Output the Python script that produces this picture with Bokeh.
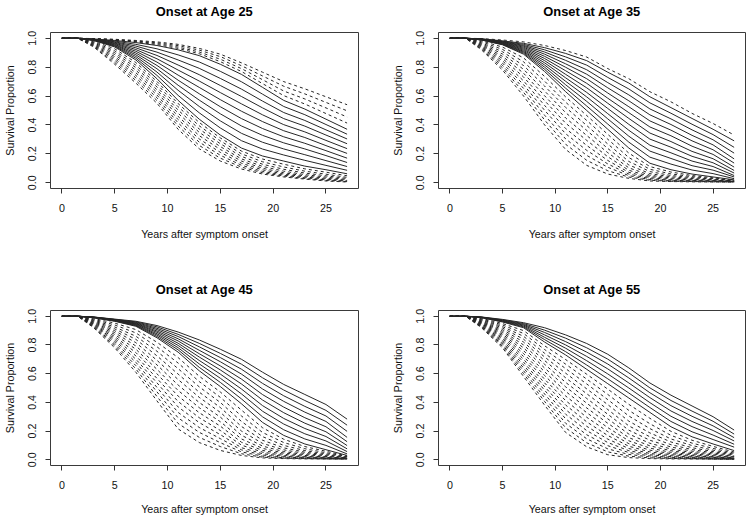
from bokeh.plotting import figure
from bokeh.models import Range1d, FixedTicker, NumeralTickFormatter, Title
from bokeh.layouts import column, row
from bokeh.embed import file_html
from bokeh.resources import INLINE

# ---------------- data (survival, in percent) ----------------
years = [0, 1.5, 3, 5, 7, 9, 11, 13, 15, 17, 19, 21, 23, 25, 27]

all_alive = [100.0, 100.0, 100.0, 100.0, 100.0, 100.0, 100.0, 100.0, 100.0, 100.0, 100.0, 100.0,
             100.0, 100.0, 100.0, 100.0, 100.0, 100.0, 100.0, 100.0, 100.0, 100.0, 100.0, 100.0]

# each row = one year of `years` (from 3 on), 24 curves from top to bottom
age25_rows = [
    [99.8, 99.7, 99.7, 99.6, 99.5, 99.4, 99.3, 99.2, 99.1, 99.0, 98.9, 98.8, 98.7, 98.6, 98.5, 98.0, 97.5, 97.0, 96.5, 96.0, 95.5, 95.0, 94.5, 94.0],
    [99.3, 99.1, 98.9, 98.7, 98.5, 98.1, 97.6, 97.2, 96.7, 96.3, 95.8, 95.4, 94.9, 94.5, 94.0, 92.7, 91.3, 90.0, 88.7, 87.3, 86.0, 84.7, 83.3, 82.0],
    [98.5, 98.1, 97.8, 97.4, 97.0, 95.8, 94.6, 93.4, 92.2, 91.0, 89.8, 88.6, 87.4, 86.2, 85.0, 83.2, 81.4, 79.7, 77.9, 76.1, 74.3, 72.6, 70.8, 69.0],
    [97.5, 96.9, 96.3, 95.6, 95.0, 92.7, 90.4, 88.1, 85.8, 83.5, 81.2, 78.9, 76.6, 74.3, 72.0, 70.1, 68.2, 66.3, 64.4, 62.6, 60.7, 58.8, 56.9, 55.0],
    [95.8, 94.9, 93.9, 93.0, 92.0, 88.5, 85.0, 81.5, 78.0, 74.5, 71.0, 67.5, 64.0, 60.5, 57.0, 54.8, 52.6, 50.3, 48.1, 45.9, 43.7, 41.4, 39.2, 37.0],
    [93.0, 91.8, 90.5, 89.3, 88.0, 83.6, 79.2, 74.8, 70.4, 66.0, 61.6, 57.2, 52.8, 48.4, 44.0, 41.7, 39.4, 37.2, 34.9, 32.6, 30.3, 28.1, 25.8, 23.5],
    [89.0, 87.3, 85.5, 83.8, 82.0, 77.1, 72.2, 67.3, 62.4, 57.5, 52.6, 47.7, 42.8, 37.9, 33.0, 31.0, 29.0, 27.0, 25.0, 23.0, 21.0, 19.0, 17.0, 15.0],
    [83.0, 81.0, 79.0, 77.0, 75.0, 69.9, 64.8, 59.7, 54.6, 49.5, 44.4, 39.3, 34.2, 29.1, 24.0, 21.9, 20.0, 18.2, 16.5, 15.0, 13.5, 12.1, 10.8, 9.5],
    [76.5, 73.9, 71.3, 68.6, 66.0, 61.3, 56.5, 51.8, 47.0, 42.3, 37.5, 32.8, 28.0, 23.3, 18.5, 16.4, 14.5, 12.8, 11.3, 10.0, 8.9, 7.8, 6.9, 6.0],
    [70.0, 66.8, 63.5, 60.3, 57.0, 52.8, 48.6, 44.4, 40.2, 36.0, 31.8, 27.6, 23.4, 19.2, 15.0, 12.8, 10.9, 9.3, 8.0, 6.9, 6.0, 5.2, 4.6, 4.0],
    [65.0, 61.5, 58.0, 54.5, 51.0, 47.1, 43.1, 39.2, 35.2, 31.3, 27.3, 23.4, 19.4, 15.5, 11.5, 9.6, 8.0, 6.7, 5.6, 4.7, 4.0, 3.4, 2.9, 2.5],
    [59.5, 55.6, 51.8, 47.9, 44.0, 40.3, 36.6, 33.0, 29.3, 25.7, 22.2, 18.8, 15.3, 12.0, 9.0, 7.3, 5.9, 4.8, 3.9, 3.1, 2.5, 2.0, 1.6, 1.2],
    [54.0, 49.8, 45.5, 41.3, 37.0, 33.6, 30.3, 27.0, 23.6, 20.3, 17.0, 14.0, 11.2, 8.6, 6.2, 4.8, 3.7, 2.9, 2.2, 1.7, 1.3, 1.0, 0.7, 0.5],
]

age35_rows = [
    [99.8, 99.6, 99.5, 99.5, 99.4, 99.3, 99.2, 99.2, 99.1, 99.0, 98.9, 98.9, 98.8, 98.2, 97.6, 96.9, 96.3, 95.7, 95.1, 94.5, 93.9, 93.2, 92.6, 92.0],
    [98.8, 98.2, 98.0, 97.7, 97.5, 97.2, 97.0, 96.7, 96.5, 96.2, 96.0, 95.7, 95.5, 93.9, 92.3, 90.7, 89.1, 87.5, 86.0, 84.4, 82.8, 81.2, 79.6, 78.0],
    [97.5, 96.5, 95.8, 95.1, 94.5, 93.8, 93.1, 92.4, 91.7, 91.0, 90.4, 89.7, 89.0, 86.4, 83.7, 81.1, 78.5, 75.8, 73.2, 70.5, 67.9, 65.3, 62.6, 60.0],
    [95.0, 93.5, 92.0, 90.5, 89.0, 87.5, 86.0, 84.5, 83.0, 81.5, 80.0, 78.5, 77.0, 73.6, 70.3, 66.9, 63.5, 60.2, 56.8, 53.5, 50.1, 46.7, 43.4, 40.0],
    [91.5, 89.5, 87.1, 84.7, 82.3, 79.9, 77.5, 75.0, 72.6, 70.2, 67.8, 65.4, 63.0, 59.4, 55.7, 52.1, 48.5, 44.8, 41.2, 37.5, 33.9, 30.3, 26.6, 23.0],
    [87.0, 84.5, 81.4, 78.2, 75.1, 72.0, 68.8, 65.7, 62.5, 59.4, 56.3, 53.1, 50.0, 46.5, 43.1, 39.6, 36.2, 32.7, 29.3, 25.8, 22.4, 18.9, 15.5, 12.0],
    [79.0, 76.5, 72.9, 69.3, 65.7, 62.1, 58.5, 55.0, 51.4, 47.8, 44.2, 40.6, 37.0, 33.5, 30.1, 26.8, 23.7, 20.8, 18.0, 15.4, 13.0, 10.7, 8.3, 6.0],
    [72.0, 69.0, 64.9, 60.8, 56.7, 52.6, 48.5, 44.5, 40.4, 36.3, 32.2, 28.1, 24.0, 20.5, 17.4, 14.7, 12.3, 10.3, 8.6, 7.2, 6.0, 4.9, 3.9, 3.0],
    [63.0, 59.5, 55.3, 51.1, 47.0, 42.8, 38.6, 34.4, 30.2, 26.0, 21.9, 17.7, 13.5, 11.2, 9.3, 7.7, 6.3, 5.2, 4.3, 3.5, 2.8, 2.2, 1.7, 1.2],
    [56.0, 52.0, 48.1, 44.2, 40.3, 36.4, 32.5, 28.5, 24.6, 20.7, 16.8, 12.9, 9.0, 7.4, 6.1, 5.0, 4.1, 3.3, 2.7, 2.1, 1.7, 1.3, 1.0, 0.8],
    [48.0, 44.5, 40.5, 36.6, 32.8, 29.0, 25.3, 21.7, 18.3, 15.0, 11.8, 8.8, 6.0, 5.0, 4.2, 3.5, 2.9, 2.4, 2.0, 1.6, 1.3, 1.0, 0.8, 0.6],
    [41.0, 37.0, 33.3, 29.7, 26.2, 22.8, 19.6, 16.6, 13.8, 11.2, 8.7, 6.3, 4.0, 3.4, 2.9, 2.5, 2.1, 1.8, 1.5, 1.2, 1.0, 0.8, 0.6, 0.5],
    [33.0, 29.0, 24.5, 20.5, 16.5, 13.6, 10.8, 8.5, 6.7, 5.0, 4.0, 2.8, 2.0, 1.7, 1.5, 1.3, 1.1, 1.0, 0.9, 0.8, 0.7, 0.6, 0.5, 0.4],
]

age45_rows = [
    [99.5, 99.4, 99.4, 99.3, 99.3, 99.2, 99.2, 99.1, 99.1, 99.0, 98.5, 98.0, 97.5, 97.0, 96.5, 96.0, 95.5, 95.0, 94.5, 94.0, 93.5, 93.0, 92.5, 92.0],
    [98.0, 97.8, 97.7, 97.5, 97.3, 97.2, 97.0, 96.8, 96.7, 96.5, 95.2, 93.9, 92.5, 91.2, 89.9, 88.6, 87.3, 85.9, 84.6, 83.3, 82.0, 80.6, 79.3, 78.0],
    [96.5, 96.1, 95.7, 95.3, 94.9, 94.6, 94.2, 93.8, 93.4, 93.0, 90.7, 88.4, 86.1, 83.9, 81.6, 79.3, 77.0, 74.7, 72.4, 70.1, 67.9, 65.6, 63.3, 61.0],
    [93.5, 92.6, 91.6, 90.7, 89.7, 88.8, 87.8, 86.9, 85.9, 85.0, 81.9, 78.7, 75.6, 72.4, 69.3, 66.1, 63.0, 59.9, 56.7, 53.6, 50.4, 47.3, 44.1, 41.0],
    [89.0, 87.4, 85.9, 84.3, 82.8, 81.2, 79.7, 78.1, 76.6, 75.0, 71.2, 67.4, 63.5, 59.7, 55.9, 52.1, 48.3, 44.4, 40.6, 36.8, 33.0, 29.2, 25.3, 21.5],
    [83.5, 81.1, 78.7, 76.3, 73.9, 71.6, 69.2, 66.8, 64.4, 62.0, 58.2, 54.5, 50.8, 47.1, 43.5, 39.9, 36.3, 32.8, 29.3, 25.9, 22.5, 19.1, 15.6, 12.0],
    [77.0, 74.1, 71.2, 68.3, 65.4, 62.6, 59.7, 56.8, 53.9, 51.0, 47.2, 43.5, 39.9, 36.4, 33.0, 29.7, 26.5, 23.4, 20.4, 17.5, 14.7, 11.9, 9.2, 6.5],
    [70.0, 66.6, 63.1, 59.7, 56.2, 52.8, 49.3, 45.9, 42.4, 39.0, 34.6, 30.5, 26.7, 23.2, 20.0, 17.1, 14.5, 12.2, 10.2, 8.4, 6.9, 5.5, 4.2, 3.0],
    [61.0, 57.1, 53.2, 49.3, 45.4, 41.6, 37.7, 33.8, 29.9, 26.0, 22.3, 19.0, 16.1, 13.6, 11.4, 9.5, 7.9, 6.5, 5.3, 4.2, 3.3, 2.5, 1.8, 1.3],
    [52.5, 48.6, 44.6, 40.7, 36.7, 32.8, 28.8, 24.9, 20.9, 17.0, 14.3, 12.0, 10.0, 8.3, 6.9, 5.7, 4.7, 3.8, 3.0, 2.4, 1.9, 1.4, 1.1, 0.8],
    [45.5, 41.3, 37.2, 33.2, 29.3, 25.5, 21.8, 18.1, 14.5, 11.0, 9.2, 7.7, 6.4, 5.3, 4.4, 3.6, 3.0, 2.4, 2.0, 1.6, 1.3, 1.0, 0.8, 0.6],
    [38.5, 34.4, 30.5, 26.7, 23.0, 19.5, 16.2, 13.1, 10.0, 7.0, 5.9, 4.9, 4.1, 3.4, 2.8, 2.3, 1.9, 1.6, 1.3, 1.1, 0.9, 0.7, 0.6, 0.5],
    [28.3, 24.1, 19.8, 15.6, 12.6, 9.9, 7.6, 5.7, 4.1, 3.0, 2.6, 2.3, 2.0, 1.8, 1.6, 1.4, 1.2, 1.0, 0.9, 0.8, 0.7, 0.6, 0.5, 0.4],
]

age55_rows = [
    [99.5, 99.4, 99.3, 99.3, 99.2, 99.1, 99.0, 98.6, 98.2, 97.8, 97.4, 96.9, 96.5, 96.1, 95.7, 95.3, 94.9, 94.5, 94.1, 93.6, 93.2, 92.8, 92.4, 92.0],
    [97.8, 97.5, 97.2, 96.9, 96.6, 96.3, 96.0, 94.9, 93.9, 92.8, 91.8, 90.7, 89.6, 88.6, 87.5, 86.5, 85.4, 84.4, 83.3, 82.2, 81.2, 80.1, 79.1, 78.0],
    [95.5, 94.9, 94.3, 93.8, 93.2, 92.6, 92.0, 90.0, 88.0, 86.0, 84.0, 82.0, 80.0, 78.0, 76.0, 74.0, 72.0, 70.0, 68.0, 66.0, 64.0, 62.0, 60.0, 58.0],
    [92.0, 90.3, 88.7, 87.0, 85.3, 83.7, 82.0, 79.4, 76.8, 74.2, 71.6, 69.1, 66.5, 63.9, 61.3, 58.7, 56.1, 53.5, 50.9, 48.4, 45.8, 43.2, 40.6, 38.0],
    [87.0, 84.7, 82.3, 80.0, 77.7, 75.3, 73.0, 69.8, 66.6, 63.5, 60.3, 57.1, 53.9, 50.8, 47.6, 44.4, 41.2, 38.1, 34.9, 31.7, 28.5, 25.4, 22.2, 19.0],
    [81.0, 78.0, 75.0, 72.0, 69.0, 66.0, 63.0, 59.6, 56.2, 52.8, 49.4, 46.0, 42.7, 39.4, 36.1, 32.8, 29.6, 26.4, 23.3, 20.3, 17.4, 14.6, 11.8, 9.0],
    [73.5, 70.1, 66.7, 63.3, 59.8, 56.4, 53.0, 49.2, 45.5, 41.9, 38.4, 35.0, 31.7, 28.5, 25.4, 22.4, 19.6, 16.9, 14.4, 12.0, 9.8, 7.6, 5.5, 3.5],
    [64.0, 60.5, 57.0, 53.5, 50.0, 46.5, 43.0, 38.6, 34.4, 30.5, 26.9, 23.6, 20.6, 17.9, 15.4, 13.2, 11.2, 9.4, 7.8, 6.3, 5.0, 3.7, 2.5, 1.5],
    [53.5, 50.1, 46.7, 43.3, 39.8, 36.4, 33.0, 28.9, 25.1, 21.7, 18.7, 16.0, 13.6, 11.5, 9.7, 8.1, 6.7, 5.5, 4.4, 3.5, 2.7, 2.0, 1.3, 0.8],
    [45.0, 41.3, 37.7, 34.0, 30.3, 26.7, 23.0, 19.8, 17.0, 14.5, 12.4, 10.5, 8.9, 7.5, 6.3, 5.2, 4.3, 3.5, 2.8, 2.2, 1.7, 1.2, 0.9, 0.6],
    [37.5, 33.9, 30.3, 26.7, 23.1, 19.5, 16.0, 13.6, 11.6, 9.9, 8.4, 7.1, 6.0, 5.0, 4.2, 3.5, 2.9, 2.4, 1.9, 1.5, 1.2, 0.9, 0.7, 0.5],
    [30.0, 26.8, 23.6, 20.4, 17.2, 14.1, 11.0, 9.3, 7.9, 6.7, 5.7, 4.8, 4.0, 3.4, 2.8, 2.3, 1.9, 1.6, 1.3, 1.0, 0.8, 0.6, 0.5, 0.4],
    [20.7, 17.9, 15.4, 13.1, 10.8, 8.8, 6.4, 5.4, 4.6, 3.9, 3.3, 2.8, 2.4, 2.0, 1.7, 1.4, 1.2, 1.0, 0.8, 0.7, 0.6, 0.5, 0.4, 0.3],
]

# which curves are drawn solid (middle group) and which dashed (top / bottom groups)
kinds_age25 = ["dashed"] * 4 + ["solid"] * 11 + ["dashed"] * 9
kinds_age35 = ["dashed"] * 1 + ["solid"] * 12 + ["dashed"] * 11
kinds_age45 = ["solid"] * 10 + ["dashed"] * 14
kinds_age55 = ["solid"] * 7 + ["dashed"] * 17

titles = ["Onset at Age 25", "Onset at Age 35", "Onset at Age 45", "Onset at Age 55"]
x_ticks = [0, 5, 10, 15, 20, 25]
y_ticks = [0.0, 0.2, 0.4, 0.6, 0.8, 1.0]
x_label = "Years after symptom onset"
y_label = "Survival Proportion"

# ---------------- drawing ----------------
FONT = "Liberation Sans"
INK = "#262626"
X0, X1 = -1.08, 28.08
Y0, Y1 = -0.04, 1.04


def make_panel(title, rows, kinds, width, height, bl, br, bt, bb, xlab_standoff):
    p = figure(width=width, height=height, output_backend="svg", toolbar_location=None,
               x_range=Range1d(X0, X1), y_range=Range1d(Y0, Y1),
               min_border_left=bl, min_border_right=br, min_border_top=bt, min_border_bottom=bb)
    p.title = None
    # an empty spacer title next to the frame pushes the real title upwards
    p.add_layout(Title(text=" ", text_font=FONT, text_font_size="11.2px", standoff=0), "above")
    p.add_layout(Title(text=title, align="center", standoff=0, text_font=FONT,
                       text_font_style="bold", text_font_size="12.9px", text_color="#000000"),
                 "above")
    p.background_fill_color = "white"
    p.border_fill_color = "white"
    p.outline_line_color = "#3a3a3a"
    p.outline_line_width = 1
    p.xgrid.visible = False
    p.ygrid.visible = False

    full_rows = [all_alive, all_alive] + rows
    curves = list(zip(*full_rows))
    xs_s, ys_s, xs_d, ys_d = [], [], [], []
    for curve, kind in zip(curves, kinds):
        ys = [v / 100.0 for v in curve]
        if kind == "solid":
            xs_s.append(years)
            ys_s.append(ys)
        else:
            xs_d.append(years)
            ys_d.append(ys)
    if xs_d:
        p.multi_line(xs_d, ys_d, line_color=INK, line_width=1, line_dash="3 3")
    if xs_s:
        p.multi_line(xs_s, ys_s, line_color=INK, line_width=1)

    for ax in (p.xaxis[0], p.yaxis[0]):
        ax.axis_line_color = None
        ax.major_tick_line_color = "#333333"
        ax.major_tick_out = 5
        ax.major_tick_in = 0
        ax.minor_tick_line_color = None
        ax.major_label_text_font = FONT
        ax.major_label_text_font_size = "10.7px"
        ax.major_label_text_color = "#111111"
        ax.axis_label_text_font = FONT
        ax.axis_label_text_font_size = "10.7px"
        ax.axis_label_text_font_style = "normal"
        ax.axis_label_text_color = "#111111"
    p.xaxis.major_label_standoff = 10
    p.yaxis.major_label_standoff = 9
    p.xaxis.axis_label = x_label
    p.yaxis.axis_label = y_label
    p.xaxis.axis_label_standoff = xlab_standoff
    p.yaxis.axis_label_standoff = 10
    p.xaxis.ticker = FixedTicker(ticks=x_ticks)
    p.yaxis.ticker = FixedTicker(ticks=y_ticks)
    p.yaxis.formatter = NumeralTickFormatter(format="0.0")
    p.yaxis.major_label_orientation = "vertical"
    return p


p1 = make_panel(titles[0], age25_rows, kinds_age25, 388, 278, 50, 30, 32, 90, 13)
p2 = make_panel(titles[1], age35_rows, kinds_age35, 358, 278, 50, 1, 32, 90, 13)
p3 = make_panel(titles[2], age45_rows, kinds_age45, 388, 239, 50, 30, 32, 51, 11)
p4 = make_panel(titles[3], age55_rows, kinds_age55, 358, 239, 50, 1, 32, 51, 11)

layout = column(row(p1, p2, spacing=0), row(p3, p4, spacing=0), spacing=0)

open("out.html", "w").write(file_html(layout, INLINE))
